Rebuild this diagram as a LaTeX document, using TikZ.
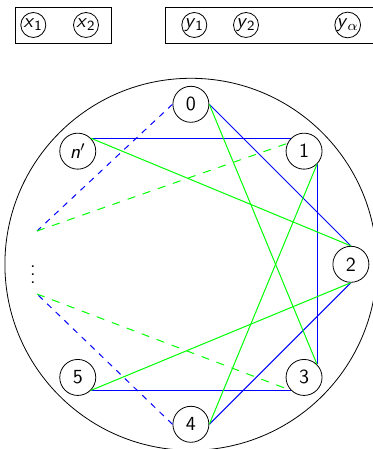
\documentclass[tikz,border=0pt]{standalone}
\usepackage{tikz}
\usetikzlibrary{calc}
\definecolor{cTwo}{RGB}{0,0,255}
\definecolor{cThree}{RGB}{0,255,0}
\newcommand{\sv}[2]{\textit{#1}\textsubscript{#2}}

\begin{document}
\begin{tikzpicture}[x=0.5pt,y=0.5pt,font=\sffamily,
  vtx/.style={draw,circle,minimum size=18pt,inner sep=0pt},
  tok/.style={draw,circle,minimum size=12.5pt,inner sep=0pt},
  hop/.style={cTwo,line width=0.5pt},
  jump/.style={cThree,line width=0.5pt},
  hopdash/.style={hop,dash pattern=on 3pt off 3pt},
  jumpdash/.style={jump,dash pattern=on 4pt off 4pt}]
  \useasboundingbox (0,0) rectangle (373,449);
  \draw (15,405.7) rectangle (111.7,441.7);
  \draw (165.7,405.7) rectangle (378,441.7);
  \node[tok] (x1) at (33.3,424) {\sv{x}{1}};
  \node[tok] (x2) at (86,424) {\sv{x}{2}};
  \node[tok] (y1) at (194.3,424) {\sv{y}{1}};
  \node[tok] (y2) at (246,424) {\sv{y}{2}};
  \node[tok] (ya) at (347.7,424) {\sv{y}{$\alpha$}};

  \coordinate (C) at (190.9,184.7);
  \draw (C) circle (186);
  \node[vtx] (v0) at ($(C)+(90:160)$) {0};
  \node[vtx] (v1) at ($(C)+(45:160)$) {1};
  \node[vtx] (v2) at ($(C)+(0:160)$) {2};
  \node[vtx] (v3) at ($(C)+(-45:160)$) {3};
  \node[vtx] (v4) at ($(C)+(-90:160)$) {4};
  \node[vtx] (v5) at ($(C)+(-135:160)$) {5};
  \node[vtx] (vn) at ($(C)+(135:160)$) {\textit{n}$'$};
  \node (dots) at (33,180) {$\vdots$};
  \coordinate (up) at (37,218);
  \coordinate (lo) at (37,155);

  \draw[hop] (vn.north east) -- (v1.north west);
  \draw[hop] (v0.east) -- (v2.north);
  \draw[hop] (v1.south east) -- (v3.north east);
  \draw[hop] (v2.south) -- (v4.east);
  \draw[hop] (v5.south east) -- (v3.south west);
  \draw[hopdash] (v0.west) -- (up);
  \draw[hopdash] (v4.west) -- (lo);

  \draw[jump] (vn.north east) -- (v2.north);
  \draw[jump] (v0.east) -- (v3.north east);
  \draw[jump] (v1.south east) -- (v4.east);
  \draw[jump] (v5.south east) -- (v2.south);
  \draw[jumpdash] (up) -- (v1.155);
  \draw[jumpdash] (lo) -- (v3.south west);
\end{tikzpicture}
\end{document}
